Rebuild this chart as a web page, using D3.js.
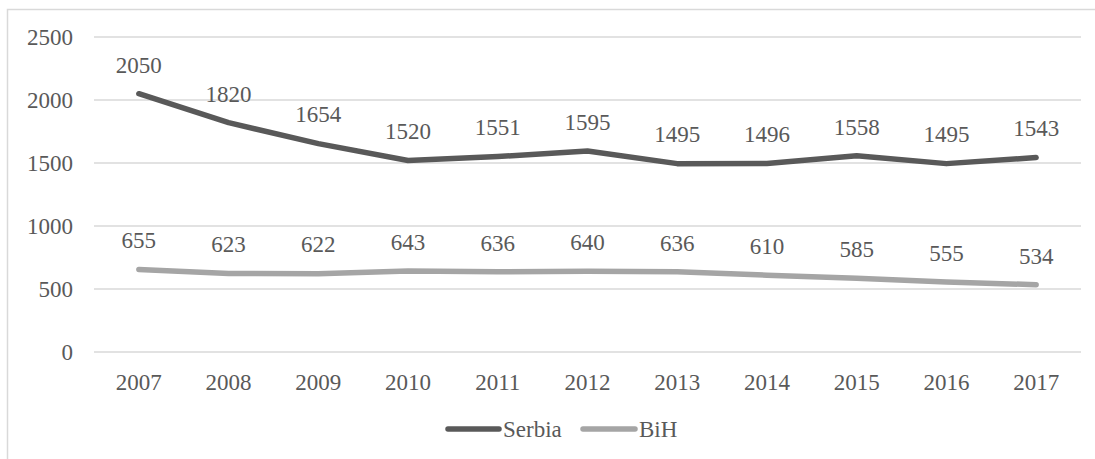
<!DOCTYPE html>
<html>
<head>
<meta charset="utf-8">
<script src="https://cdn.jsdelivr.net/npm/d3@7/dist/d3.min.js"></script>
<style>
  html, body { margin: 0; padding: 0; background: #fff; }
  svg { display: block; }
  text { font-family: "Liberation Serif", "DejaVu Serif", serif; fill: #595959; }
</style>
</head>
<body>
<svg id="chart" width="1095" height="459"></svg>
<script>
const years = ["2007","2008","2009","2010","2011","2012","2013","2014","2015","2016","2017"];
const serbia = [2050, 1820, 1654, 1520, 1551, 1595, 1495, 1496, 1558, 1495, 1543];
const bih = [655, 623, 622, 643, 636, 640, 636, 610, 585, 555, 534];
const yTicks = [0, 500, 1000, 1500, 2000, 2500];
const seriesNames = ["Serbia", "BiH"];
const seriesColors = ["#595959", "#a5a5a5"];

const svg = d3.select("#chart");

// outer chart frame
svg.append("rect")
  .attr("x", 7.5).attr("y", 9.5)
  .attr("width", 1100).attr("height", 470)
  .attr("fill", "none").attr("stroke", "#d9d9d9").attr("stroke-width", 1.5);

const x = d3.scaleBand().domain(years).range([94, 1081]);
const y = d3.scaleLinear().domain([0, 2500]).range([352, 37]);

// horizontal gridlines
svg.append("g").selectAll("line").data(yTicks).join("line")
  .attr("x1", 94).attr("x2", 1081)
  .attr("y1", d => y(d)).attr("y2", d => y(d))
  .attr("stroke", "#d9d9d9").attr("stroke-width", 1.5);

// y axis labels
const yAxis = d3.axisLeft(y).tickValues(yTicks).tickFormat(d3.format("d")).tickSize(0).tickPadding(0);
const gy = svg.append("g").attr("transform", "translate(73,0)").call(yAxis);
gy.select(".domain").remove();
gy.selectAll("text").attr("font-size", 23).attr("fill", "#595959")
  .style("font-family", "'Liberation Serif', serif").attr("dy", "0.34em");

// x axis labels
const xAxis = d3.axisBottom(x).tickSize(0).tickPadding(0);
const gx = svg.append("g").attr("transform", "translate(0,382)").call(xAxis);
gx.select(".domain").remove();
gx.selectAll("text").attr("font-size", 23).attr("fill", "#595959")
  .style("font-family", "'Liberation Serif', serif").attr("dy", "0.34em");

const cx = d => x(d) + x.bandwidth() / 2;
const line = d3.line().x(d => cx(d.year)).y(d => y(d.value));

const series = [serbia, bih].map((vals, i) => ({
  name: seriesNames[i],
  color: seriesColors[i],
  points: years.map((yr, j) => ({ year: yr, value: vals[j] }))
}));

series.forEach(s => {
  svg.append("path")
    .datum(s.points)
    .attr("d", line)
    .attr("fill", "none")
    .attr("stroke", s.color)
    .attr("stroke-width", 5.5)
    .attr("stroke-linecap", "round")
    .attr("stroke-linejoin", "round");

  svg.append("g").selectAll("text").data(s.points).join("text")
    .attr("x", d => cx(d.year))
    .attr("y", d => y(d.value) - 29)
    .attr("dy", "0.34em")
    .attr("text-anchor", "middle")
    .attr("font-size", 23)
    .attr("fill", "#404040")
    .text(d => d.value);
});

// legend
const legendItems = [
  { name: "Serbia", color: seriesColors[0], x1: 448, x2: 499, tx: 503 },
  { name: "BiH", color: seriesColors[1], x1: 583, x2: 635, tx: 639 }
];
const lg = svg.append("g");
legendItems.forEach(it => {
  lg.append("line")
    .attr("x1", it.x1).attr("x2", it.x2).attr("y1", 429).attr("y2", 429)
    .attr("stroke", it.color).attr("stroke-width", 5.5).attr("stroke-linecap", "round");
  lg.append("text")
    .attr("x", it.tx).attr("y", 429).attr("dy", "0.34em")
    .attr("font-size", 23).attr("fill", "#595959")
    .text(it.name);
});
</script>
</body>
</html>
